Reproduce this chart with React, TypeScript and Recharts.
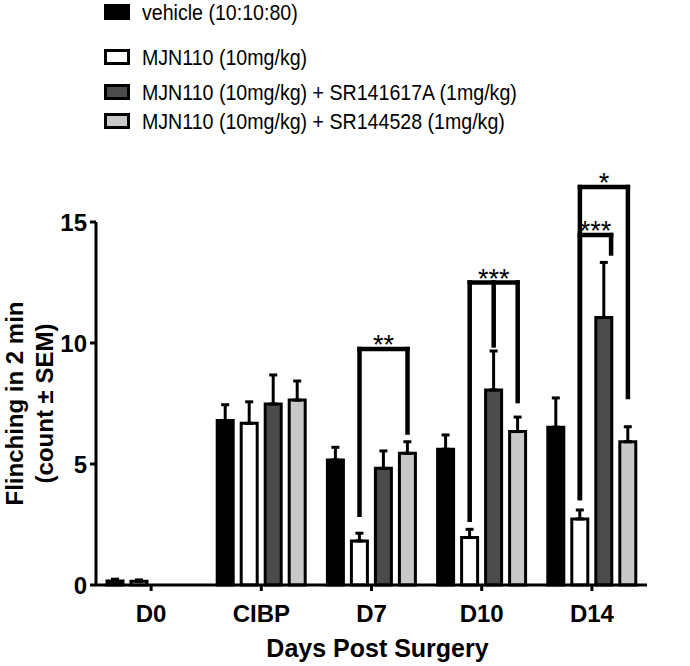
import { BarChart, Bar, XAxis, YAxis, ErrorBar, ReferenceLine } from "recharts"

/* ---- data ---- */
const days = ["D0", "CIBP", "D7", "D10", "D14"]

const vehicle = [0.17, 6.8, 5.17, 5.61, 6.52]
const vehicleSem = [0.07, 0.65, 0.52, 0.59, 1.21]
const mjn110 = [0.15, 6.68, 1.82, 1.96, 2.73]
const mjn110Sem = [0.06, 0.89, 0.32, 0.34, 0.37]
const mjnSr141617 = [null, 7.48, 4.82, 8.06, 11.05]
const mjnSr141617Sem = [null, 1.2, 0.72, 1.61, 2.28]
const mjnSr144528 = [null, 7.64, 5.44, 6.34, 5.92]
const mjnSr144528Sem = [null, 0.79, 0.48, 0.6, 0.62]

const yTicks = [0, 5, 10, 15]

/* significance brackets: bar = index of bar inside the day group */
const brackets = [
  { day: "D7", stars: "**", top: 9.75, legs: [{ bar: 1, end: 2.9 }, { bar: 3, end: 6.3 }] },
  { day: "D10", stars: "***", top: 12.5, legs: [{ bar: 1, end: 2.7 }, { bar: 2, end: 9.9 }, { bar: 3, end: 7.6 }] },
  { day: "D14", stars: "***", top: 14.46, legs: [{ bar: 1, end: 3.6 }, { bar: 2.3, end: 13.7 }] },
  { day: "D14", stars: "*", top: 16.45, legs: [{ bar: 1, end: 3.6 }, { bar: 3, end: 7.77 }] },
]

const series = [
  { key: "vehicle", name: "vehicle (10:10:80)", values: vehicle, sem: vehicleSem, fill: "#000000" },
  { key: "mjn", name: "MJN110 (10mg/kg)", values: mjn110, sem: mjn110Sem, fill: "#ffffff" },
  { key: "sr1", name: "MJN110 (10mg/kg) + SR141617A (1mg/kg)", values: mjnSr141617, sem: mjnSr141617Sem, fill: "#4b4b4b" },
  { key: "sr2", name: "MJN110 (10mg/kg) + SR144528 (1mg/kg)", values: mjnSr144528, sem: mjnSr144528Sem, fill: "#c8c8c8" },
]

const data = days.map((day, i) => {
  const row: Record<string, unknown> = { day }
  series.forEach((s) => {
    row[s.key] = s.values[i]
    row[s.key + "Err"] = s.sem[i] == null ? null : [0, s.sem[i]]
  })
  return row
})

/* ---- layout ---- */
const W = 690
const H = 666
const MARGIN = { top: 222, right: 43, bottom: 0, left: 0 }
const Y_AXIS_W = 96
const X_AXIS_H = 81
const BAR_SIZE = 16
const BAR_GAP = 8
const FONT = "'Liberation Sans', Arial, Helvetica, sans-serif"
const legendRowCenters = [12, 57, 92, 121]

/* pixel offset of bar k from the centre of its day group */
const barDx = (bar: number) => (bar - 1.5) * (BAR_SIZE + BAR_GAP)

function YTitle(props: any) {
  const vb = props.viewBox ?? { x: 0, y: 0, width: 0, height: 0 }
  const cy = vb.y + vb.height / 2
  const style = { fontFamily: FONT, fontWeight: 700, fontSize: 24, fill: "#000" }
  return (
    <g>
      <text transform={`translate(${vb.x + 14}, ${cy}) rotate(-90)`} textAnchor="middle" dominantBaseline="central" style={style}>
        Flinching in 2 min
      </text>
      <text transform={`translate(${vb.x + 44}, ${cy}) rotate(-90)`} textAnchor="middle" dominantBaseline="central" style={style}>
        (count ± SEM)
      </text>
    </g>
  )
}

function XTitle(props: any) {
  const vb = props.viewBox ?? { x: 0, y: 0, width: 0, height: 0 }
  return (
    <text x={vb.x + vb.width / 2 + 6} y={vb.y + 72} textAnchor="middle"
      style={{ fontFamily: FONT, fontWeight: 700, fontSize: 25, fill: "#000" }}>
      Days Post Surgery
    </text>
  )
}

/* The reference line runs from (day, top) to (day, 0); the bracket is drawn
   from those scaled end points, legs shifted onto their bars. */
function bracketShape(b: typeof brackets[number]) {
  return (p: any) => {
    const cx = p.x1
    const yTop = Math.min(p.y1, p.y2)
    const yZero = Math.max(p.y1, p.y2)
    const yOf = (v: number) => yZero - ((yZero - yTop) * v) / b.top
    const xs = b.legs.map((l) => cx + barDx(l.bar))
    const xl = Math.min(...xs)
    const xr = Math.max(...xs)
    const st = { stroke: "#000", strokeWidth: 4.5, strokeLinecap: "square" as const }
    return (
      <g>
        <line x1={xl} y1={yTop} x2={xr} y2={yTop} {...st} />
        {b.legs.map((l, i) => (
          <line key={i} x1={xs[i]} y1={yTop} x2={xs[i]} y2={yOf(l.end)} {...st} />
        ))}
        <text x={(xl + xr) / 2} y={yTop + 5} textAnchor="middle"
          style={{ fontFamily: FONT, fontSize: 27, fill: "#000" }}>
          {b.stars}
        </text>
      </g>
    )
  }
}

function Legend() {
  return (
    <div style={{ position: "absolute", left: 0, top: 0, width: W, height: 140, fontFamily: FONT }}>
      {series.map((s, i) => (
        <div key={s.key} style={{
          position: "absolute", left: 104, top: legendRowCenters[i] - 12, height: 24,
          display: "flex", alignItems: "center", whiteSpace: "nowrap",
        }}>
          <div style={{
            width: 26, height: 16, boxSizing: "border-box",
            border: "3px solid #000", background: s.fill,
          }} />
          <span style={{ marginLeft: 12, fontSize: 19.6, color: "#000", display: "inline-block", transform: "scaleY(1.12)" }}>{s.name}</span>
        </div>
      ))}
    </div>
  )
}

export default function App() {
  return (
    <div style={{ position: "absolute", left: 0, top: 0, width: W, height: H, background: "#fff" }}>
      <BarChart
        width={W}
        height={H}
        data={data}
        margin={MARGIN}
        barSize={BAR_SIZE}
        barGap={BAR_GAP}
      >
        <XAxis
          dataKey="day"
          height={X_AXIS_H}
          axisLine={{ stroke: "#000", strokeWidth: 3 }}
          tickLine={{ stroke: "#000", strokeWidth: 3 }}
          tickSize={6}
          tickMargin={14}
          interval={0}
          tick={{ fill: "#000", fontSize: 24, fontWeight: 700, fontFamily: FONT }}
          label={<XTitle />}
        />
        <YAxis
          width={Y_AXIS_W}
          domain={[0, 15]}
          ticks={yTicks}
          interval={0}
          axisLine={{ stroke: "#000", strokeWidth: 3 }}
          tickLine={{ stroke: "#000", strokeWidth: 3 }}
          tickSize={6}
          tickMargin={3}
          tick={{ fill: "#000", fontSize: 24, fontWeight: 700, fontFamily: FONT }}
          label={<YTitle />}
        />

        {series.map((s) => (
          <Bar key={s.key} dataKey={s.key} name={s.name} fill={s.fill}
            stroke="#000" strokeWidth={3} isAnimationActive={false}>
            <ErrorBar dataKey={s.key + "Err"} direction="y" width={4}
              stroke="#000" strokeWidth={3} isAnimationActive={false} />
          </Bar>
        ))}

        {brackets.map((b, bi) => (
          <ReferenceLine key={bi} ifOverflow="visible"
            segment={[{ x: b.day, y: b.top }, { x: b.day, y: 0 }]}
            shape={bracketShape(b)} />
        ))}
      </BarChart>
      <Legend />
    </div>
  )
}
